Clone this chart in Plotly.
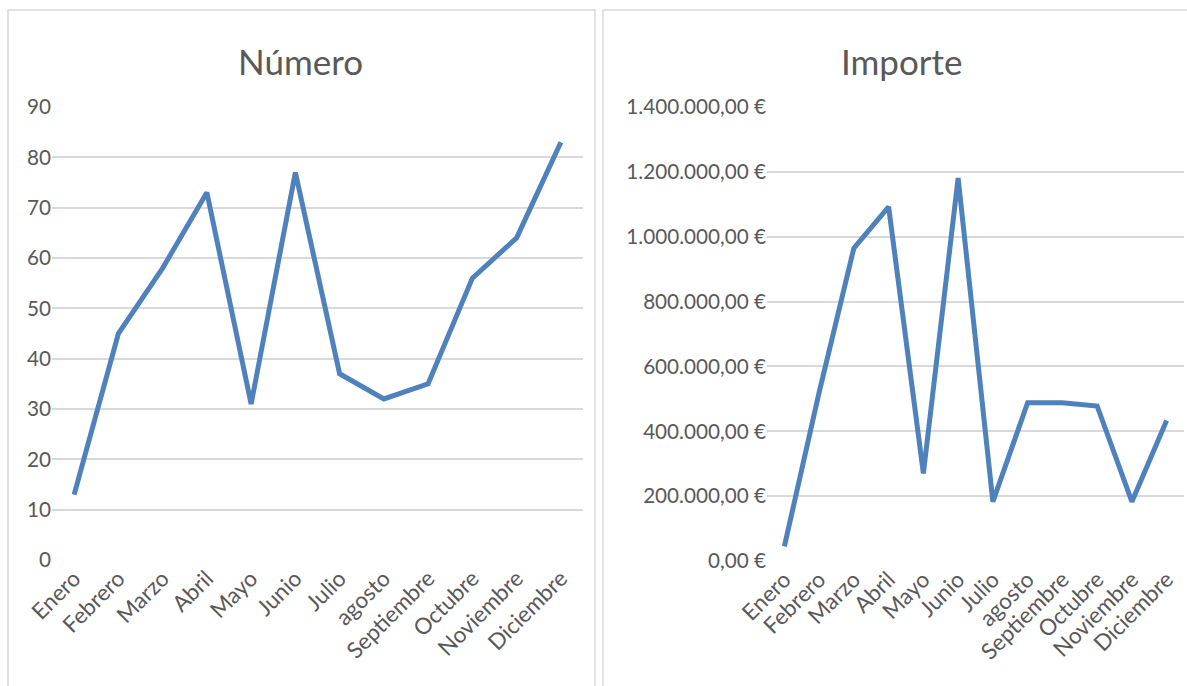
import plotly.graph_objects as go

meses = ["Enero", "Febrero", "Marzo", "Abril", "Mayo", "Junio", "Julio",
         "agosto", "Septiembre", "Octubre", "Noviembre", "Diciembre"]
numero = [13, 45, 58, 73, 31, 77, 37, 32, 35, 56, 64, 83]
importe = [45000, 520000, 965000, 1092000, 270000, 1181000, 183000,
           488000, 488000, 478000, 183000, 433000]

W, H = 1187, 686
LINE = "#4F81BD"
GRID = "#D9D9D9"
TXT = "#595959"
FONT = "Lato"

def px(x):
    return x / W

def py(y):
    return 1 - y / H

fig = go.Figure()
fig.add_trace(go.Scatter(x=meses, y=numero, mode="lines", xaxis="x", yaxis="y",
                         line=dict(color=LINE, width=5), showlegend=False))
fig.add_trace(go.Scatter(x=meses, y=importe, mode="lines", xaxis="x2", yaxis="y2",
                         line=dict(color=LINE, width=5), showlegend=False))

xcommon = dict(type="category", tickangle=-45, showgrid=False, zeroline=False,
               showline=False, ticks="", automargin=False,
               range=[-0.5, len(meses) - 0.5],
               tickfont=dict(family=FONT, size=22.5, color=TXT))
ycommon = dict(showgrid=True, gridcolor=GRID, gridwidth=1.5, zeroline=False,
               showline=False, ticks="", automargin=False,
               tickfont=dict(family=FONT, size=20.7, color=TXT))

fig.update_layout(
    width=W, height=H,
    margin=dict(l=0, r=0, t=0, b=0, autoexpand=False),
    paper_bgcolor="white", plot_bgcolor="white",
    separators=",.",
    xaxis=dict(domain=[px(52), px(583)], anchor="y", **xcommon),
    yaxis=dict(domain=[py(560), py(107)], anchor="x", range=[0, 90], dtick=10, **ycommon),
    xaxis2=dict(domain=[px(767), px(1184)], anchor="y2", **xcommon),
    yaxis2=dict(domain=[py(561), py(107)], anchor="x2", range=[0, 1400000], dtick=200000,
                tickformat=",.2f", ticksuffix=" €", **ycommon),
    shapes=[
        dict(type="rect", xref="paper", yref="paper", x0=px(8), x1=px(595),
             y0=-0.05, y1=py(10), line=dict(color=GRID, width=1.5)),
        dict(type="rect", xref="paper", yref="paper", x0=px(603), x1=1.05,
             y0=-0.05, y1=py(10), line=dict(color=GRID, width=1.5)),
    ],
    annotations=[
        dict(text="Número", x=px(301), y=py(61), xref="paper", yref="paper",
             showarrow=False, xanchor="center", yanchor="middle",
             font=dict(family=FONT, size=35, color=TXT)),
        dict(text="Importe", x=px(901), y=py(61), xref="paper", yref="paper",
             showarrow=False, xanchor="center", yanchor="middle",
             font=dict(family=FONT, size=35, color=TXT)),
    ],
)

fig.write_html("out.html", config={"displayModeBar": False},
               post_script="document.body.style.margin='0';document.body.style.overflow='hidden';")
